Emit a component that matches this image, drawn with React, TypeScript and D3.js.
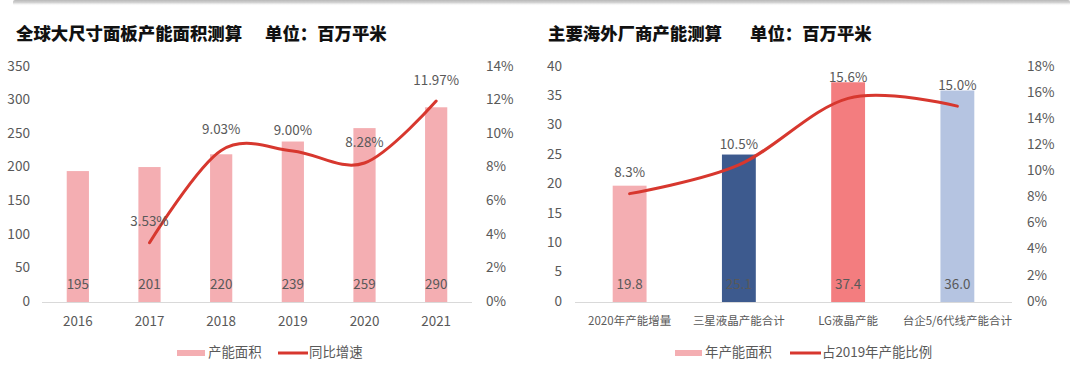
import React from 'react';
import * as d3 from 'd3';

// ---------- Data ----------
const years = ['2016', '2017', '2018', '2019', '2020', '2021'];
const capacityArea = [195, 201, 220, 239, 259, 290];
const yoyGrowth: (number | null)[] = [null, 3.53, 9.03, 9.0, 8.28, 11.97];
const leftBarTicks = [0, 50, 100, 150, 200, 250, 300, 350];
const leftPctTicks = [0, 2, 4, 6, 8, 10, 12, 14];

const makers = ['2020年产能增量', '三星液晶产能合计', 'LG液晶产能', '台企5/6代线产能合计'];
const makerCapacity = [19.8, 25.1, 37.4, 36.0];
const makerShare = [8.3, 10.5, 15.6, 15.0];
const makerColors = ['#F4AEB2', '#3D5A8E', '#F37D7F', '#B5C4E1'];
const rightBarTicks = [0, 5, 10, 15, 20, 25, 30, 35, 40];
const rightPctTicks = [0, 2, 4, 6, 8, 10, 12, 14, 16, 18];

const leftTitle = '全球大尺寸面板产能面积测算';
const rightTitle = '主要海外厂商产能测算';
const unitText = '单位：百万平米';
const leftLegend = ['产能面积', '同比增速'];
const rightLegend = ['年产能面积', '占2019年产能比例'];

// ---------- Style ----------
const FONT = '"Noto Sans CJK SC", "Microsoft YaHei", sans-serif';
const TXT = '#595959';
const PINK = '#F4AEB2';
const RED = '#D7372E';
const AXIS = '#D9D9D9';

type PanelProps = {
  x0: number;
  x1: number;
  yTop: number;
  yBot: number;
  cats: string[];
  bars: number[];
  barColors: string[];
  line: (number | null)[];
  barTicks: number[];
  pctTicks: number[];
  leftLabelX: number;
  rightLabelX: number;
  barFmt: (v: number) => string;
  pctFmt: (v: number) => string;
  catFont: number;
  title: string;
  titleX: number;
  unitX: number;
  legend: string[];
  legendX: number[]; // swatch start, text start, line start, text start
};

function Panel(p: PanelProps) {
  const x = d3.scaleBand<string>().domain(p.cats).range([p.x0, p.x1]).paddingInner(0.69).paddingOuter(0.345);
  const yB = d3
    .scaleLinear()
    .domain([0, p.barTicks[p.barTicks.length - 1]])
    .range([p.yBot, p.yTop]);
  const yP = d3
    .scaleLinear()
    .domain([0, p.pctTicks[p.pctTicks.length - 1]])
    .range([p.yBot, p.yTop]);
  const cx = (c: string) => (x(c) as number) + x.bandwidth() / 2;

  const pts = p.cats
    .map((c, i) => ({ c, v: p.line[i] }))
    .filter((d) => d.v !== null) as { c: string; v: number }[];
  const lineGen = d3
    .line<{ c: string; v: number }>()
    .x((d) => cx(d.c))
    .y((d) => yP(d.v))
    .curve(d3.curveCardinal.tension(0));

  const legY = 353;
  return (
    <g fontFamily={FONT}>
      <text x={p.titleX} y={35} fontSize={17.4} fontWeight={800} fill="#111" dominantBaseline="middle">
        {p.title}
      </text>
      <text x={p.unitX} y={35} fontSize={17.4} fontWeight={800} fill="#111" dominantBaseline="middle">
        {unitText}
      </text>

      {p.barTicks.map((t) => (
        <text key={'l' + t} x={p.leftLabelX} y={yB(t)} fontSize={13.6} fill={TXT} textAnchor="end" dominantBaseline="middle">
          {t}
        </text>
      ))}
      {p.pctTicks.map((t) => (
        <text key={'r' + t} x={p.rightLabelX} y={yP(t)} fontSize={13.6} fill={TXT} textAnchor="start" dominantBaseline="middle">
          {t + '%'}
        </text>
      ))}

      {p.cats.map((c, i) => (
        <rect
          key={'b' + c}
          x={x(c)}
          y={yB(p.bars[i])}
          width={x.bandwidth()}
          height={yB(0) - yB(p.bars[i])}
          fill={p.barColors[i]}
        />
      ))}
      <line x1={p.x0} x2={p.x1} y1={yB(0) + 0.5} y2={yB(0) + 0.5} stroke={AXIS} strokeWidth={1} />

      <path d={lineGen(pts) || ''} fill="none" stroke={RED} strokeWidth={3} strokeLinecap="round" />

      {p.cats.map((c, i) => (
        <text key={'bv' + c} x={cx(c)} y={yB(0) - 17} fontSize={13.4} fill={TXT} textAnchor="middle" dominantBaseline="middle">
          {p.barFmt(p.bars[i])}
        </text>
      ))}
      {pts.map((d) => (
        <text key={'lv' + d.c} x={cx(d.c)} y={yP(d.v) - 20} fontSize={13.4} fill={TXT} textAnchor="middle" dominantBaseline="middle">
          {p.pctFmt(d.v)}
        </text>
      ))}

      {p.cats.map((c) => (
        <text key={'c' + c} x={cx(c)} y={322} fontSize={p.catFont} fill={TXT} textAnchor="middle" dominantBaseline="middle">
          {c}
        </text>
      ))}

      <rect x={p.legendX[0]} y={legY - 3} width={p.legendX[1] - p.legendX[0] - 3} height={6} fill={PINK} />
      <text x={p.legendX[1]} y={legY} fontSize={13.4} fill={TXT} dominantBaseline="middle">
        {p.legend[0]}
      </text>
      <line x1={p.legendX[2]} x2={p.legendX[3] - 1} y1={legY} y2={legY} stroke={RED} strokeWidth={3} />
      <text x={p.legendX[3]} y={legY} fontSize={13.4} fill={TXT} dominantBaseline="middle">
        {p.legend[1]}
      </text>
    </g>
  );
}

export default function App() {
  return (
    <svg
      width={1080}
      height={377}
      viewBox="0 0 1080 377"
      style={{ position: 'absolute', left: 0, top: 0, display: 'block', background: '#fff' }}
    >
      <defs>
        <linearGradient id="shadow" x1="0" y1="0" x2="0" y2="1">
          <stop offset="0" stopColor="#b8b8b8" />
          <stop offset="0.45" stopColor="#d4d4d4" />
          <stop offset="1" stopColor="#ffffff" stopOpacity="0" />
        </linearGradient>
      </defs>
      <rect x={0} y={0} width={1080} height={377} fill="#fff" />
      <rect x={13} y={0} width={1057} height={6} fill="url(#shadow)" rx={2} />

      <Panel
        x0={42}
        x1={472}
        yTop={67}
        yBot={302}
        cats={years}
        bars={capacityArea}
        barColors={years.map(() => PINK)}
        line={yoyGrowth}
        barTicks={leftBarTicks}
        pctTicks={leftPctTicks}
        leftLabelX={30}
        rightLabelX={486}
        barFmt={(v) => String(v)}
        pctFmt={(v) => v.toFixed(2) + '%'}
        catFont={13.4}
        title={leftTitle}
        titleX={16}
        unitX={265}
        legend={leftLegend}
        legendX={[177, 208, 278, 309]}
      />
      <Panel
        x0={575}
        x1={1012}
        yTop={67}
        yBot={302}
        cats={makers}
        bars={makerCapacity}
        barColors={makerColors}
        line={makerShare}
        barTicks={rightBarTicks}
        pctTicks={rightPctTicks}
        leftLabelX={562}
        rightLabelX={1027}
        barFmt={(v) => v.toFixed(1)}
        pctFmt={(v) => v.toFixed(1) + '%'}
        catFont={11.5}
        title={rightTitle}
        titleX={548}
        unitX={750}
        legend={rightLegend}
        legendX={[675, 705, 790, 822]}
      />
    </svg>
  );
}
